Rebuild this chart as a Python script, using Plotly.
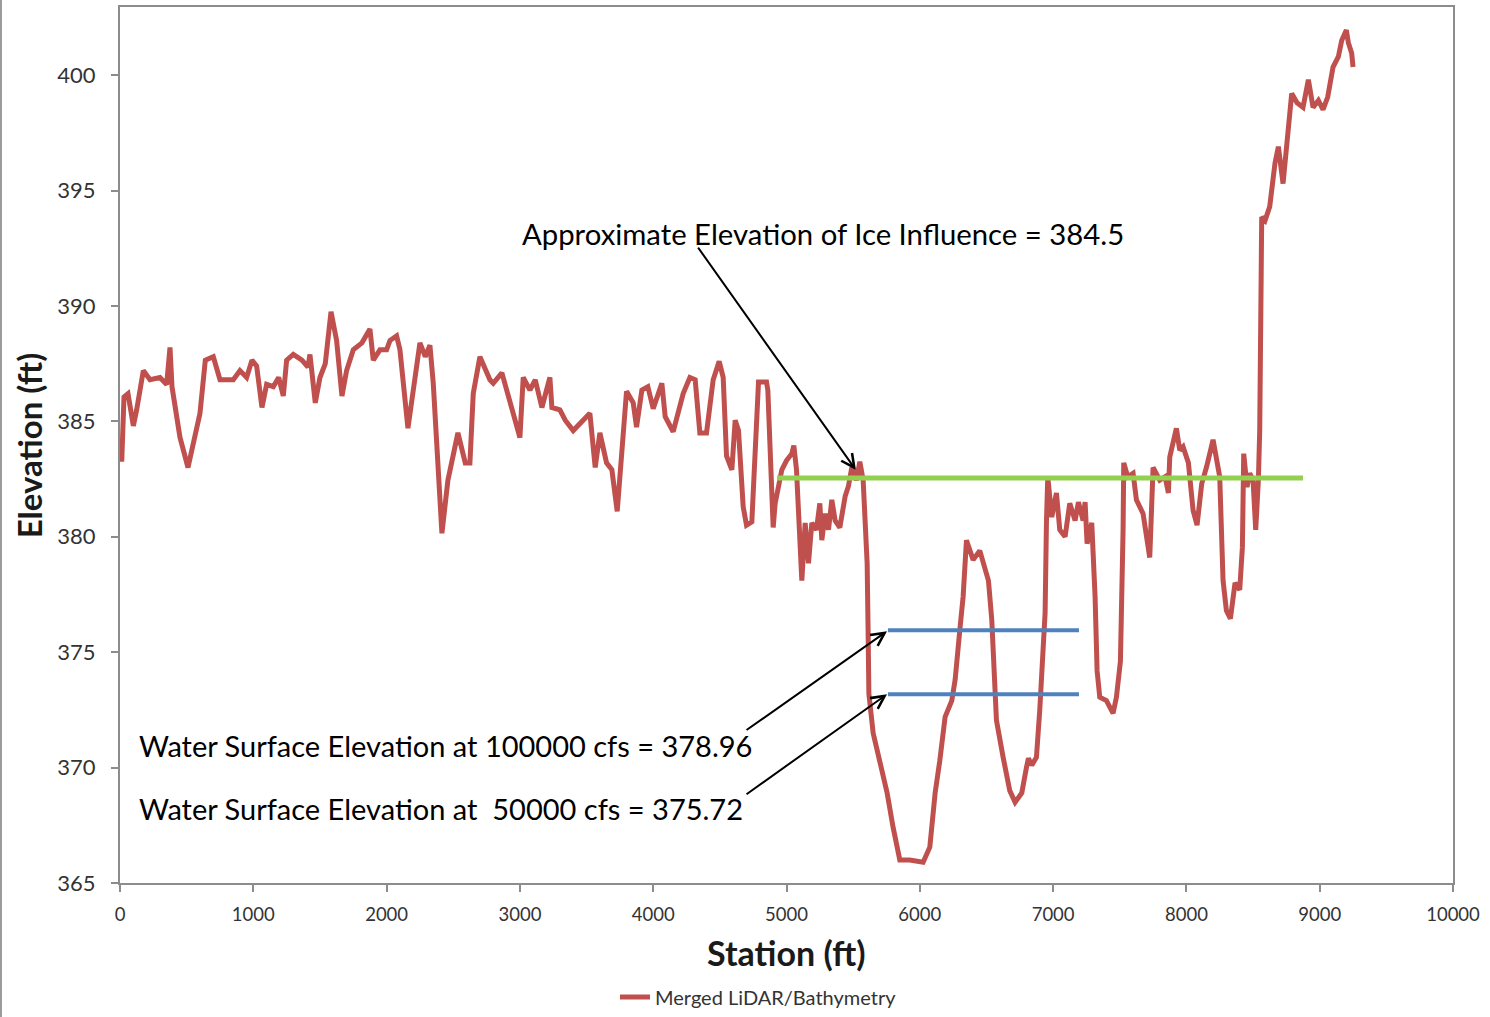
import plotly.graph_objects as go

# ---- data ----
station = [13, 30, 60, 100, 125, 175, 225, 300, 350, 375, 390, 450, 510, 550, 600, 640, 700, 750, 850, 900,
           950, 990, 1025, 1065, 1100, 1150, 1190, 1225, 1250, 1300, 1365, 1410, 1425, 1465, 1500, 1540, 1583,
           1625, 1665, 1700, 1750, 1815, 1875, 1900, 1950, 2000, 2025, 2075, 2100, 2160, 2200, 2250, 2290,
           2325, 2350, 2415, 2460, 2535, 2590, 2625, 2650, 2700, 2775, 2800, 2865, 2925, 3000, 3025, 3075,
           3115, 3165, 3225, 3240, 3300, 3340, 3400, 3450, 3525, 3565, 3600, 3650, 3690, 3730, 3765, 3800,
           3850, 3875, 3915, 3960, 4000, 4065, 4090, 4150, 4225, 4275, 4315, 4350, 4400, 4450, 4495, 4525,
           4550, 4590, 4615, 4640, 4675, 4700, 4740, 4780, 4790, 4850, 4860, 4900, 4915, 4965, 5000, 5040,
           5055, 5075, 5095, 5115, 5140, 5165, 5190, 5225, 5250, 5265, 5290, 5315, 5340, 5365, 5400, 5440,
           5465, 5490, 5525, 5550, 5575, 5595, 5605, 5612, 5618, 5650, 5700, 5755, 5800, 5850, 5925, 6025,
           6075, 6115, 6150, 6190, 6240, 6265, 6300, 6325, 6350, 6400, 6450, 6475, 6515, 6540, 6560, 6575,
           6625, 6675, 6715, 6765, 6800, 6815, 6840, 6875, 6900, 6925, 6940, 6950, 6960, 6990, 7025, 7050,
           7090, 7125, 7165, 7190, 7225, 7240, 7255, 7290, 7315, 7330, 7350, 7400, 7450, 7475, 7505, 7525,
           7530, 7560, 7600, 7625, 7675, 7725, 7750, 7800, 7840, 7865, 7875, 7925, 7950, 7975, 8015, 8050,
           8080, 8115, 8150, 8200, 8225, 8250, 8275, 8300, 8330, 8365, 8400, 8420, 8430, 8455, 8475, 8500,
           8520, 8540, 8550, 8558, 8565, 8590, 8625, 8665, 8690, 8725, 8750, 8790, 8830, 8875, 8915, 8950,
           8990, 9025, 9060, 9100, 9140, 9165, 9200, 9215, 9240, 9250]
elevation = [383.25, 386.06, 386.2, 384.8, 385.5, 387.2, 386.8, 386.9, 386.6, 388.2, 386.5, 384.3, 383.0, 384.0,
             385.35, 387.65, 387.8, 386.8, 386.8, 387.2, 386.9, 387.65, 387.4, 385.6, 386.6, 386.5, 386.9,
             386.1, 387.65, 387.9, 387.65, 387.35, 387.9, 385.8, 386.9, 387.5, 389.75, 388.5, 386.1, 387.2,
             388.1, 388.4, 389.0, 387.65, 388.1, 388.1, 388.5, 388.7, 388.1, 384.7, 386.5, 388.4, 387.8,
             388.3, 386.65, 380.15, 382.45, 384.5, 383.2, 383.2, 386.2, 387.8, 386.8, 386.65, 387.1, 385.8,
             384.3, 386.9, 386.35, 386.8, 385.6, 386.9, 385.6, 385.5, 385.05, 384.6, 384.9, 385.35, 383.0,
             384.5, 383.2, 382.9, 381.1, 383.5, 386.3, 385.8, 384.75, 386.35, 386.5, 385.55, 386.65, 385.2,
             384.55, 386.2, 386.9, 386.8, 384.5, 384.5, 386.8, 387.6, 386.9, 383.5, 382.9, 385.05, 384.6,
             381.3, 380.5, 380.65, 386.05, 386.7, 386.7, 386.35, 380.4, 381.45, 382.9, 383.3, 383.6, 383.95,
             382.9, 380.3, 378.1, 380.6, 378.85, 380.6, 380.3, 381.45, 379.85, 381.0, 380.3, 381.6, 380.7,
             380.4, 381.75, 382.2, 383.0, 382.45, 383.25, 382.45, 379.3, 378.85, 376.0, 373.2, 371.5, 370.3,
             368.9, 367.4, 366.0, 366.0, 365.9, 366.55, 368.9, 370.3, 372.2, 372.9, 373.8, 375.95, 377.4,
             379.85, 379.0, 379.4, 378.85, 378.1, 376.4, 374.2, 372.05, 370.45, 369.0, 368.5, 368.9, 370.0,
             370.4, 370.1, 370.45, 372.5, 374.65, 376.7, 380.6, 382.6, 380.85, 381.9, 380.3, 380.0, 381.45,
             380.7, 381.5, 380.7, 381.5, 379.7, 380.6, 377.4, 374.2, 373.05, 372.9, 372.35, 373.05, 374.6,
             380.3, 383.2, 382.6, 382.75, 381.6, 381.0, 379.1, 383.0, 382.45, 382.6, 381.9, 383.45, 384.7,
             383.75, 383.9, 383.2, 381.15, 380.5, 382.3, 383.0, 384.2, 383.45, 382.6, 378.1, 376.8, 376.45,
             378.0, 377.7, 379.55, 383.6, 382.15, 382.75, 382.45, 380.3, 382.45, 384.6, 388.95, 393.85,
             393.7, 394.3, 396.2, 396.9, 395.3, 397.05, 399.2, 398.8, 398.6, 399.8, 398.6, 398.9, 398.5,
             399.05, 400.35, 400.8, 401.5, 401.95, 401.4, 400.95, 400.35]

ice_x = [4929, 8875]
ice_y = [382.55, 382.55]
ws100_x = [5761, 7194]
ws100_y = [375.95, 375.95]
ws50_x = [5761, 7194]
ws50_y = [373.18, 373.18]

x_ticks = list(range(0, 10001, 1000))
x_tick_text = [str(v) for v in x_ticks]
y_ticks = list(range(365, 401, 5))

labels = ["Approximate Elevation of Ice Influence = 384.5",
          "Water Surface Elevation at 100000 cfs = 378.96",
          "Water Surface Elevation at \u00a050000 cfs = 375.72"]
label_x = [3000, 130, 130]
label_y = [393.15, 370.97, 368.24]
# arrows: tail -> head
arrow_tail_x = [4329, 4689, 4689]
arrow_tail_y = [392.59, 371.58, 368.8]
arrow_head_x = [5521, 5754, 5754]
arrow_head_y = [382.89, 375.91, 373.18]

FONT = "Lato, Carlito, Calibri, sans-serif"

fig = go.Figure()
fig.add_trace(go.Scatter(x=station, y=elevation, mode="lines", name="Merged LiDAR/Bathymetry",
                         line=dict(color="#C0504D", width=5)))
fig.add_trace(go.Scatter(x=ice_x, y=ice_y, mode="lines", showlegend=False,
                         line=dict(color="#92D050", width=5)))
fig.add_trace(go.Scatter(x=ws100_x, y=ws100_y, mode="lines", showlegend=False,
                         line=dict(color="#4F81BD", width=4)))
fig.add_trace(go.Scatter(x=ws50_x, y=ws50_y, mode="lines", showlegend=False,
                         line=dict(color="#4F81BD", width=4)))

annotations = []
for i, (t, lx, ly) in enumerate(zip(labels, label_x, label_y)):
    annotations.append(dict(x=lx, y=ly, xref="x", yref="y", text=t, showarrow=False,
                            xanchor="left", yanchor="middle",
                            font=dict(family=FONT, size=29.3 if i == 0 else 29, color="#000000")))
for tx, ty, hx, hy in zip(arrow_tail_x, arrow_tail_y, arrow_head_x, arrow_head_y):
    annotations.append(dict(x=hx, y=hy, ax=tx, ay=ty, xref="x", yref="y", axref="x", ayref="y",
                            text="", showarrow=True, arrowhead=5, arrowsize=1.3, arrowwidth=2,
                            arrowcolor="#000000", standoff=0))
annotations.append(dict(x=0.5, y=-0.0799, xref="paper", yref="paper", text="<b>Station (ft)</b>",
                        showarrow=False, xanchor="center", yanchor="middle",
                        font=dict(family=FONT, size=34, color="#1a1a1a")))
annotations.append(dict(x=-0.068, y=0.5, xref="paper", yref="paper", text="<b>Elevation (ft)</b>",
                        showarrow=False, xanchor="center", yanchor="middle", textangle=-90,
                        font=dict(family=FONT, size=33, color="#1a1a1a")))

fig.update_layout(
    width=1490, height=1017,
    margin=dict(l=120, r=37, t=7, b=134, autoexpand=False),
    paper_bgcolor="white", plot_bgcolor="white",
    showlegend=True,
    legend=dict(orientation="h", x=0.479, y=0.0197, xref="paper", yref="container",
                xanchor="center", yanchor="middle",
                font=dict(family=FONT, size=20, color="#333333")),
    annotations=annotations,
    shapes=[dict(type="line", xref="paper", yref="paper", x0=-0.0893, x1=-0.0893, y0=-0.2, y1=1.05,
                 line=dict(color="#9a9a9a", width=2))],
)
fig.update_xaxes(range=[0, 10000], tickvals=x_ticks, ticktext=x_tick_text, showgrid=False, zeroline=False,
                 showline=True, linecolor="#8c8c8c", linewidth=2, mirror=True, automargin=False,
                 ticks="outside", ticklen=7, tickcolor="#8c8c8c", tickwidth=2, ticklabelstandoff=7,
                 tickfont=dict(family=FONT, size=18.5, color="#333333"))
fig.update_yaxes(range=[365, 402.95], tickvals=y_ticks, showgrid=False, zeroline=False,
                 showline=True, linecolor="#8c8c8c", linewidth=2, mirror=True, automargin=False,
                 ticks="outside", ticklen=7, tickcolor="#8c8c8c", tickwidth=2, ticklabelstandoff=11,
                 tickfont=dict(family=FONT, size=22, color="#333333"))

fig.write_html("out.html", config={"displayModeBar": False},
               post_script="document.body.style.margin='0';")
